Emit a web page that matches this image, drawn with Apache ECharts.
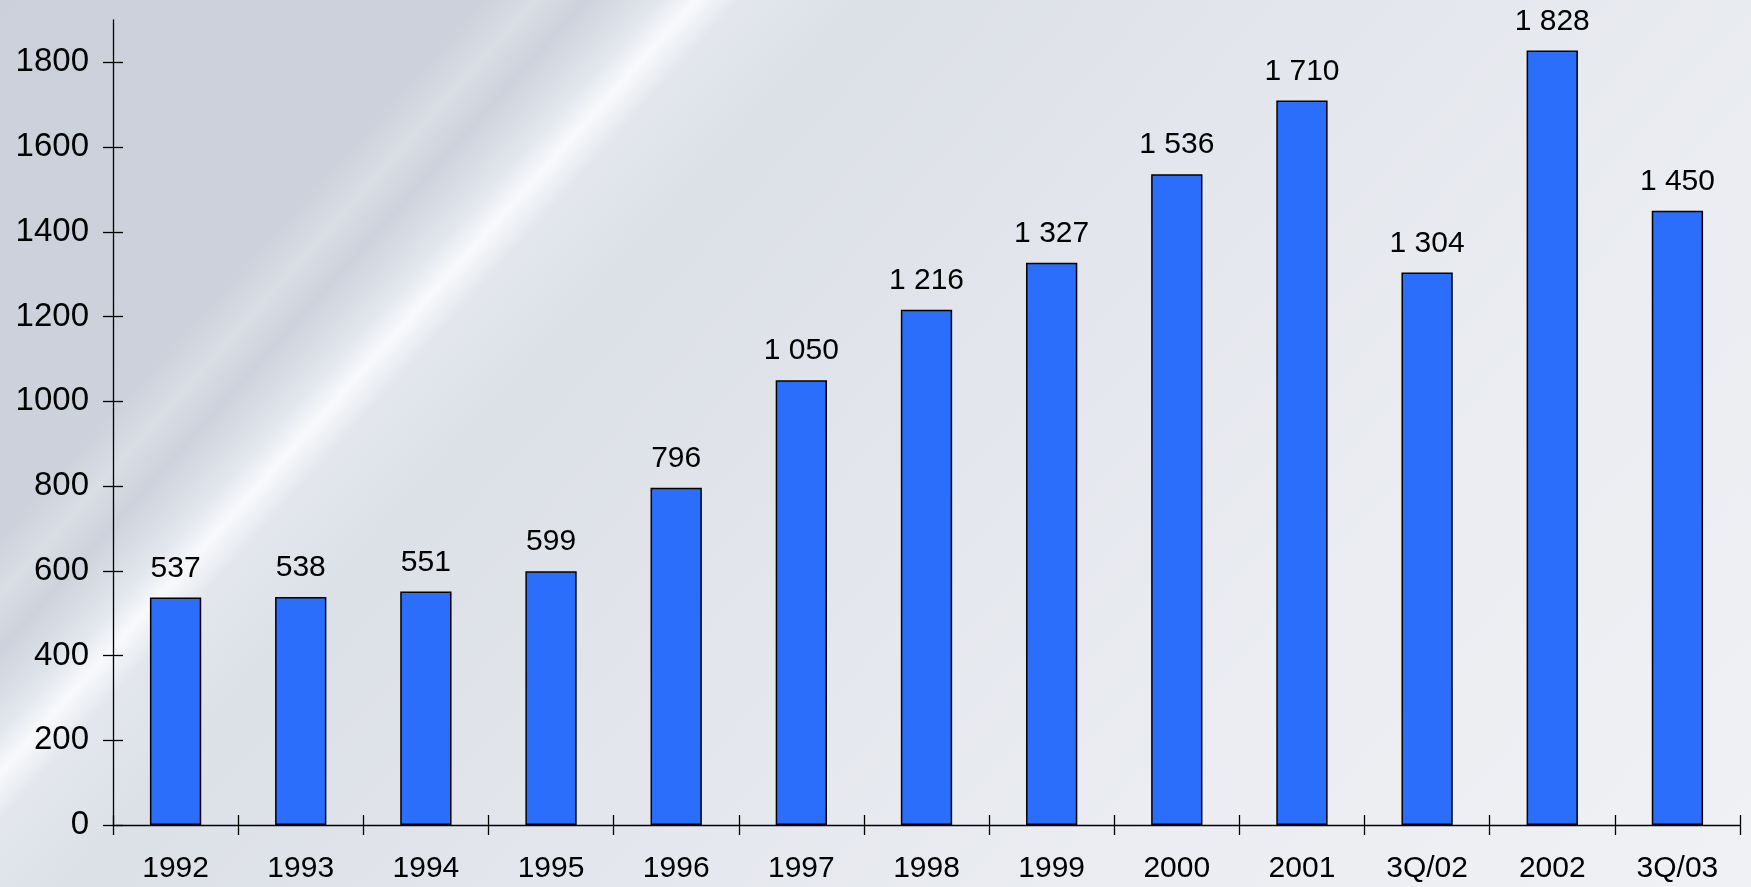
<!DOCTYPE html>
<html>
<head>
<meta charset="utf-8">
<script src="https://cdn.jsdelivr.net/npm/echarts@6/dist/echarts.min.js"></script>
<style>
  html, body { margin: 0; padding: 0; width: 1751px; height: 887px; overflow: hidden; }
  body {
    background:
      linear-gradient(132deg,
        rgba(255,255,255,0) 0%,
        rgba(255,255,255,0) 19%,
        rgba(255,255,255,0.25) 21%,
        rgba(255,255,255,0) 23%,
        rgba(255,255,255,0) 100%),
      linear-gradient(132deg,
        #CBD0DA 0%,
        #CDD2DC 23%,
        #E2E6ED 25.8%,
        #F8F9FB 27.3%,
        #E3E7ED 29%,
        #DCE0E7 34%,
        #E4E7ED 55%,
        #EBEDF2 75%,
        #EFF1F4 100%);
  }
  #chart { width: 1751px; height: 887px; }
</style>
</head>
<body>
<div id="chart"></div>
<script>
const categories = ['1992','1993','1994','1995','1996','1997','1998','1999','2000','2001','3Q/02','2002','3Q/03'];
const values = [537, 538, 551, 599, 796, 1050, 1216, 1327, 1536, 1710, 1304, 1828, 1450];
const yTicks = [0, 200, 400, 600, 800, 1000, 1200, 1400, 1600, 1800];

const FONT = 'Arial, "Liberation Sans", sans-serif';
const fmt = v => {
  const s = String(v);
  return v >= 1000 ? s.slice(0, s.length - 3) + ' ' + s.slice(-3) : s;
};

const W = 1751, H = 887;
const G = { left: 113, right: 11, top: 20, bottom: 62 };
const gridW = W - G.left - G.right;
const gridH = H - G.top - G.bottom;

const chart = echarts.init(document.getElementById('chart'), null, { renderer: 'canvas' });
const lineStyle = { color: '#000', width: 1.3 };

chart.setOption({
  backgroundColor: 'transparent',
  animation: false,
  grid: { left: G.left, right: G.right, top: G.top, bottom: G.bottom, containLabel: false },
  xAxis: [
    {
      type: 'category', data: categories, boundaryGap: true, position: 'bottom',
      axisLine: { show: true, lineStyle: lineStyle },
      axisTick: { show: true, inside: false, length: 10, lineStyle: lineStyle },
      axisLabel: { color: '#000', fontSize: 30, fontFamily: FONT, margin: 29, interval: 0 },
      splitLine: { show: false }
    },
    {
      type: 'category', data: categories, boundaryGap: true, position: 'top', offset: -gridH,
      axisLine: { show: false },
      axisTick: { show: true, inside: false, length: 10, lineStyle: lineStyle },
      axisLabel: { show: false },
      splitLine: { show: false }
    }
  ],
  yAxis: [
    {
      type: 'value', min: 0, max: 1900, interval: 200, position: 'left',
      axisLine: { show: true, lineStyle: lineStyle },
      axisTick: { show: true, inside: false, length: 10, lineStyle: lineStyle, customValues: yTicks },
      axisLabel: { color: '#000', fontSize: 33, fontFamily: FONT, margin: 24, customValues: yTicks,
                   formatter: v => String(v) },
      splitLine: { show: false }
    },
    {
      type: 'value', min: 0, max: 1900, interval: 200, position: 'right', offset: -gridW,
      axisLine: { show: false },
      axisTick: { show: true, inside: false, length: 10, lineStyle: lineStyle, customValues: yTicks },
      axisLabel: { show: false, customValues: yTicks },
      splitLine: { show: false }
    }
  ],
  series: [
    {
      type: 'bar',
      data: values,
      xAxisIndex: 0, yAxisIndex: 0,
      barWidth: '41%',
      itemStyle: { color: '#2B6EFB', borderColor: '#000', borderWidth: 1.5 },
      label: {
        show: true, position: 'top', distance: 14,
        color: '#000', fontSize: 30, fontFamily: FONT,
        formatter: p => fmt(p.value)
      }
    }
  ]
});
</script>
</body>
</html>
